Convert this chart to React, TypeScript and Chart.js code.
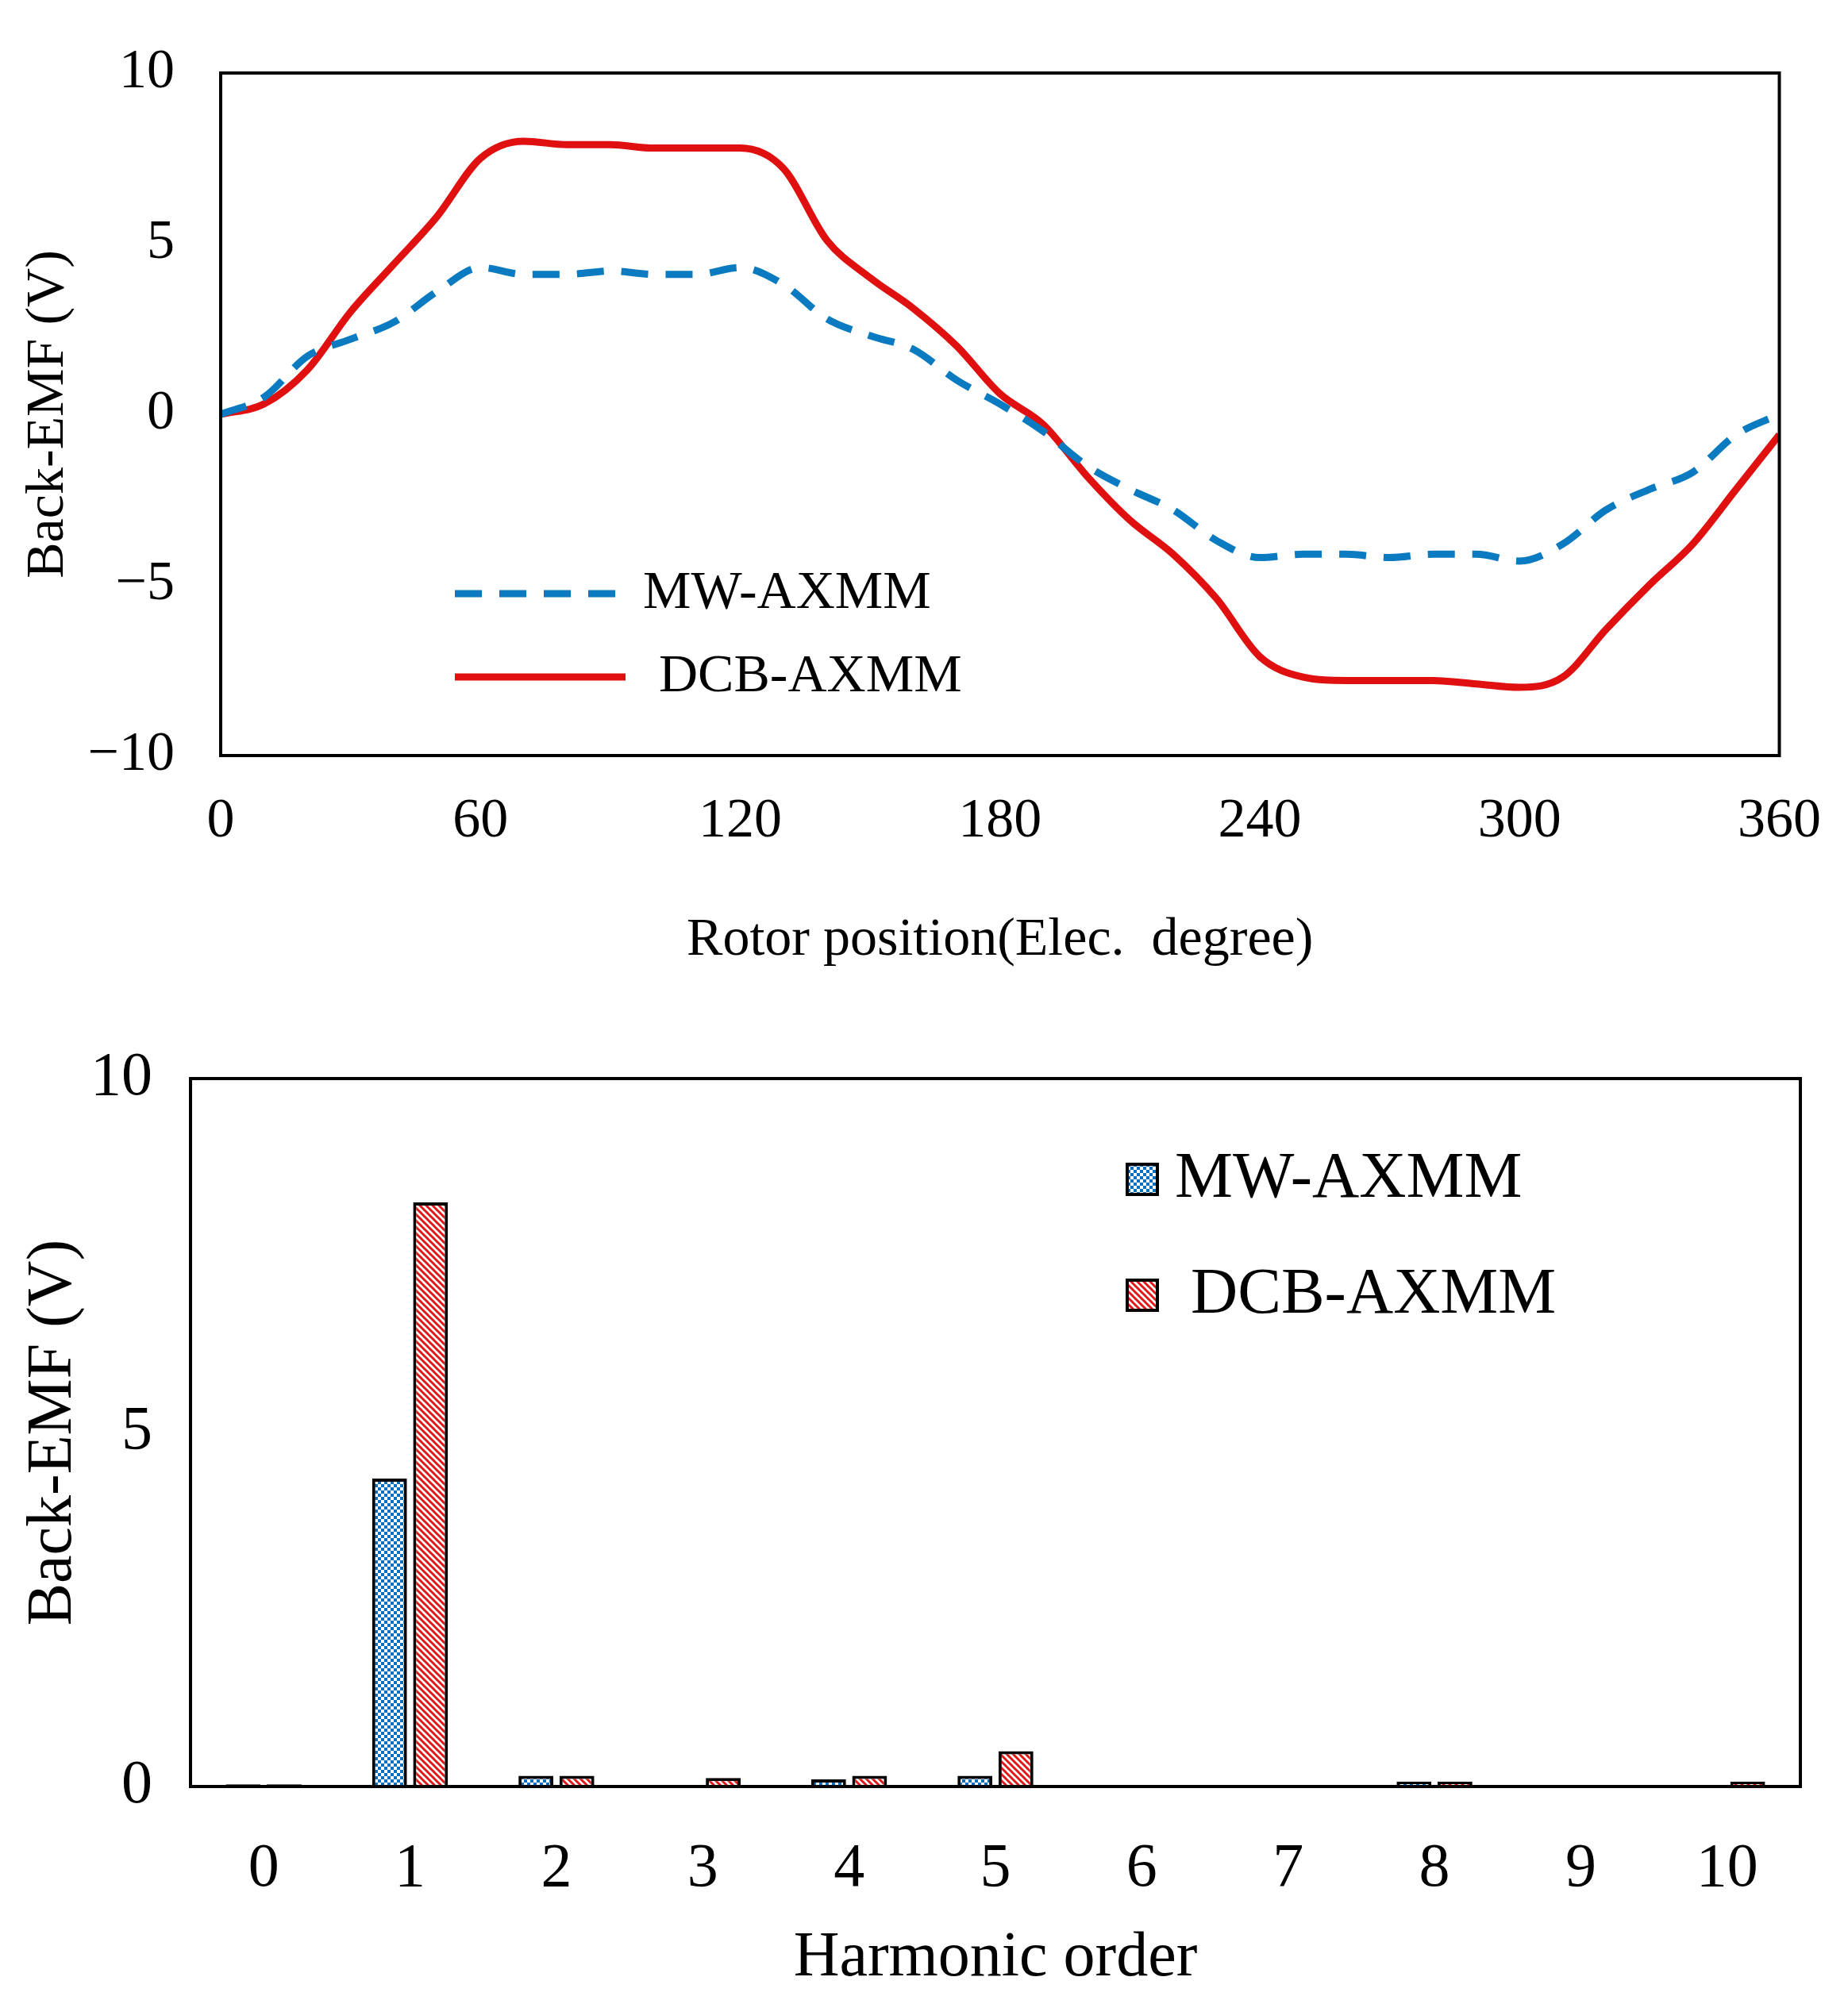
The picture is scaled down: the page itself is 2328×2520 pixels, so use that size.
import React, { useEffect, useRef } from "react";
import { Chart, registerables } from "chart.js";
Chart.register(...registerables);

const angles = Array.from({ length: 37 }, (_, i) => i * 10);
const mwEmf = [0, 0.5, 1.7, 2.2, 2.7, 3.6, 4.3, 4.1, 4.1, 4.2, 4.1, 4.1, 4.3, 3.8, 2.8, 2.3, 1.9, 1.0, 0.3, -0.5, -1.5, -2.2, -2.8, -3.7, -4.2, -4.1, -4.1, -4.2, -4.1, -4.1, -4.3, -3.8, -2.8, -2.2, -1.7, -0.6, 0];
const dcbEmf = [0, 0.3, 1.3, 3.0, 4.4, 5.8, 7.5, 8.0, 7.9, 7.9, 7.8, 7.8, 7.8, 7.2, 5.1, 4.0, 3.1, 2.0, 0.6, -0.3, -1.8, -3.1, -4.1, -5.4, -7.1, -7.7, -7.8, -7.8, -7.8, -7.9, -8.0, -7.7, -6.3, -5.0, -3.8, -2.2, -0.6];
const harmonics = ["0", "1", "2", "3", "4", "5", "6", "7", "8", "9", "10"];
const mwHarm = [0.03, 4.35, 0.15, 0.02, 0.1, 0.15, 0.02, 0.02, 0.07, 0.02, 0.02];
const dcbHarm = [0.03, 8.25, 0.15, 0.12, 0.15, 0.5, 0.02, 0.02, 0.07, 0.02, 0.07];
const topTicks = [-10, -5, 0, 5, 10];
const xTicks = [0, 60, 120, 180, 240, 300, 360];

const FONT = "'Liberation Serif', 'Times New Roman', serif";
const BLUE = "#0a7bc0";
const RED = "#e01010";
const fmt = (v: number) => (v < 0 ? "\u2212" + Math.abs(v) : String(v));

function makePattern(kind: "check" | "stripe") {
  const c = document.createElement("canvas");
  const s = 8;
  c.width = s; c.height = s;
  const g = c.getContext("2d")!;
  g.fillStyle = "#fff";
  g.fillRect(0, 0, s, s);
  if (kind === "check") {
    g.fillStyle = "#0870c0";
    g.fillRect(0, 0, 4, 4);
    g.fillRect(4, 4, 4, 4);
  } else {
    g.strokeStyle = "#e01818";
    g.lineWidth = 3;
    g.beginPath();
    g.moveTo(0, 0); g.lineTo(s, s);
    g.moveTo(-s, 0); g.lineTo(s, 2 * s);
    g.moveTo(0, -s); g.lineTo(2 * s, s);
    g.stroke();
  }
  return document.createElement("canvas").getContext("2d")!.createPattern(c, "repeat")!;
}

const framePlugin = {
  id: "frame",
  afterDatasetsDraw(chart: any) {
    const { ctx, chartArea: a } = chart;
    ctx.save();
    ctx.strokeStyle = "#000";
    ctx.lineWidth = 4;
    ctx.strokeRect(a.left, a.top, a.right - a.left, a.bottom - a.top);
    ctx.restore();
  },
};

const topLegend = {
  id: "topLegend",
  afterDraw(chart: any) {
    const { ctx, chartArea: a } = chart;
    ctx.save();
    ctx.font = `68px ${FONT}`;
    ctx.textBaseline = "middle";
    ctx.fillStyle = "#000";
    const x0 = a.left + 295, x1 = a.left + 510;
    const y1 = 748, y2 = 853;
    ctx.lineWidth = 9;
    ctx.strokeStyle = BLUE;
    ctx.setLineDash([34, 22]);
    ctx.beginPath(); ctx.moveTo(x0, y1); ctx.lineTo(x1, y1); ctx.stroke();
    ctx.setLineDash([]);
    ctx.strokeStyle = RED;
    ctx.beginPath(); ctx.moveTo(x0, y2); ctx.lineTo(x1, y2); ctx.stroke();
    ctx.fillText("MW-AXMM", x1 + 22, y1);
    ctx.fillText("DCB-AXMM", x1 + 42, y2);
    ctx.restore();
  },
};

const bottomLegend = (p1: any, p2: any) => ({
  id: "bottomLegend",
  afterDraw(chart: any) {
    const { ctx } = chart;
    ctx.save();
    ctx.font = `82px ${FONT}`;
    ctx.textBaseline = "middle";
    ctx.fillStyle = "#000";
    const bx = 1420, sz = 38;
    const ys = [256, 402];
    [p1, p2].forEach((p, i) => {
      ctx.fillStyle = p;
      ctx.fillRect(bx, ys[i] - sz / 2, sz, sz);
      ctx.strokeStyle = "#000";
      ctx.lineWidth = 4;
      ctx.strokeRect(bx, ys[i] - sz / 2, sz, sz);
    });
    ctx.fillStyle = "#000";
    ctx.fillText("MW-AXMM", bx + 60, ys[0]);
    ctx.fillText("DCB-AXMM", bx + 80, ys[1]);
    ctx.restore();
  },
});

export default function App() {
  const topRef = useRef<HTMLCanvasElement>(null);
  const botRef = useRef<HTMLCanvasElement>(null);
  useEffect(() => {
    document.body.style.margin = "0";
    const top = new Chart(topRef.current!, {
      type: "line",
      data: {
        labels: angles,
        datasets: [
          { data: angles.map((x, i) => ({ x, y: mwEmf[i] })), borderColor: BLUE, borderWidth: 9, borderDash: [34, 22], pointRadius: 0, tension: 0.4, cubicInterpolationMode: "monotone" } as any,
          { data: angles.map((x, i) => ({ x, y: dcbEmf[i] })), borderColor: RED, borderWidth: 9, pointRadius: 0, tension: 0.4, cubicInterpolationMode: "monotone" } as any,
        ],
      },
      options: {
        animation: false, responsive: false, devicePixelRatio: 1,
        layout: { padding: { top: 10, right: 62, left: 0, bottom: 0 } },
        plugins: { legend: { display: false }, tooltip: { enabled: false } },
        scales: {
          x: {
            type: "linear", min: 0, max: 360,
            afterBuildTicks: (s: any) => { s.ticks = xTicks.map((v) => ({ value: v })); },
            grid: { display: false }, border: { display: false },
            ticks: { font: { family: FONT, size: 70 }, color: "#000", padding: 34, maxRotation: 0 },
            title: { display: true, text: "Rotor position(Elec.  degree)", font: { family: FONT, size: 68 }, color: "#000", padding: { top: 10 } },
            afterFit: (s: any) => { s.height = 278; },
          },
          y: {
            min: -10, max: 10,
            afterBuildTicks: (s: any) => { s.ticks = topTicks.map((v) => ({ value: v })); },
            grid: { display: false }, border: { display: false },
            ticks: { font: { family: FONT, size: 70 }, color: "#000", padding: 50, callback: (v: any) => fmt(Number(v)) },
            title: { display: true, text: "Back-EMF (V)", font: { family: FONT, size: 68 }, color: "#000", padding: { top: 20, bottom: 0 } },
            afterFit: (s: any) => { s.width = 278; },
          },
        },
      },
      plugins: [framePlugin, topLegend],
    });
    const pb = makePattern("check"), pr = makePattern("stripe");
    const bot = new Chart(botRef.current!, {
      type: "bar",
      data: {
        labels: harmonics,
        datasets: [
          { data: mwHarm, backgroundColor: pb, borderColor: "#000", borderWidth: 4 },
          { data: dcbHarm, backgroundColor: pr, borderColor: "#000", borderWidth: 4 },
        ],
      },
      options: {
        animation: false, responsive: false, devicePixelRatio: 1,
        layout: { padding: { top: 129, right: 60, left: 0, bottom: 0 } },
        datasets: { bar: { categoryPercentage: 0.56, barPercentage: 0.85 } },
        plugins: { legend: { display: false }, tooltip: { enabled: false } },
        scales: {
          x: {
            grid: { display: false }, border: { display: false },
            ticks: { font: { family: FONT, size: 78 }, color: "#000", padding: 50 },
            title: { display: true, text: "Harmonic order", font: { family: FONT, size: 80 }, color: "#000", padding: { top: 0 } },
            afterFit: (s: any) => { s.height = 269; },
          },
          y: {
            min: 0, max: 10,
            afterBuildTicks: (s: any) => { s.ticks = [0, 5, 10].map((v) => ({ value: v })); },
            grid: { display: false }, border: { display: false },
            ticks: { font: { family: FONT, size: 78 }, color: "#000", padding: 40 },
            title: { display: true, text: "Back-EMF (V)", font: { family: FONT, size: 80 }, color: "#000", padding: { top: 20 } },
            afterFit: (s: any) => { s.width = 240; },
          },
        },
      },
      plugins: [framePlugin, bottomLegend(pb, pr)],
    });
    return () => { top.destroy(); bot.destroy(); };
  }, []);
  return (
    <div style={{ width: 2328, background: "#fff" }}>
      <canvas ref={topRef} width={2328} height={1230} style={{ display: "block" }} />
      <canvas ref={botRef} width={2328} height={1290} style={{ display: "block" }} />
    </div>
  );
}
